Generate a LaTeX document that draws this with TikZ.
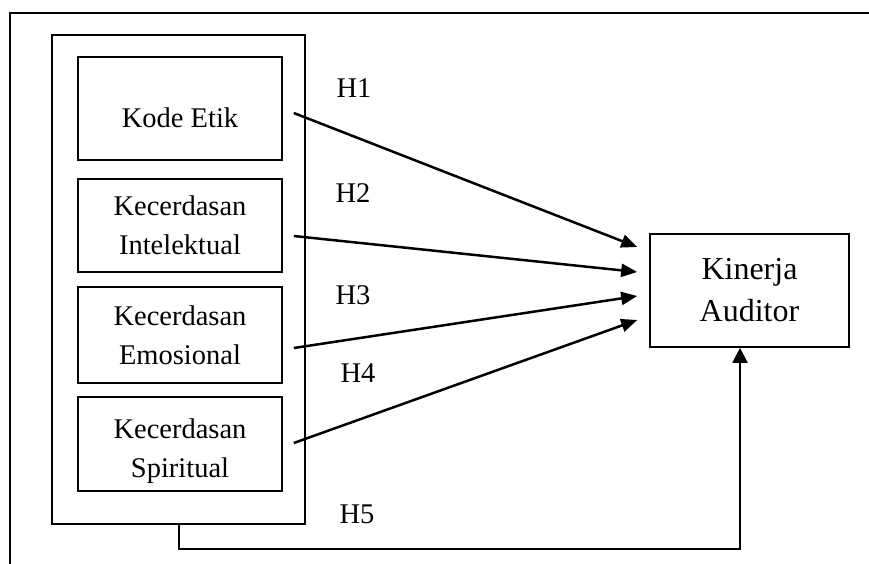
\documentclass[tikz,border=0pt]{standalone}
\usepackage{fontspec}
\setmainfont{Liberation Serif}
\usepackage{tikz}
\usetikzlibrary{positioning}
\usetikzlibrary{arrows.meta}

\begin{document}
\begin{tikzpicture}[x=1pt,y=-1pt,
    varbox/.style={align=center,draw,line width=1.6pt,minimum width=204pt,inner sep=0pt},
    hlabel/.style={inner sep=0pt},
    hyp/.style={-{Triangle[length=16pt,width=13pt]},line width=2.5pt}]
  \useasboundingbox (0,0) rectangle (869,564);
  \fontsize{28.5}{39}\selectfont

  % frame
  \draw[line width=1.6pt] (869,13) -- (10,13) -- (10,564);

  \node at (178.5,279.5) [draw,line width=1.6pt,minimum width=253pt,minimum height=489pt] (group) {};

  \node at (180,108.5) [varbox,minimum height=103pt,text height=38pt] (kode) {Kode Etik};

  \node at (180,225.5) [varbox,minimum height=93pt] (intel) {
    Kecerdasan\\
    Intelektual
  };

  \node at (180,335) [varbox,minimum height=96pt] (emosi) {
    Kecerdasan\\
    Emosional
  };

  \node at (180,444) [varbox,minimum height=94pt,text height=74pt] (spirit) {
    Kecerdasan\\
    Spiritual
  };

  \node at (749.5,290.5) [align=center,draw,line width=1.6pt,minimum width=199pt,minimum height=113pt,inner sep=0pt,font=\fontsize{32}{42}\selectfont] (kinerja) {
    Kinerja\\
    Auditor
  };

  \node at (354,88.5) [hlabel] (h1) {H1};
  \node at (353,193) [hlabel] (h2) {H2};
  \node at (353,295) [hlabel] (h3) {H3};
  \node at (358,373.5) [hlabel] (h4) {H4};
  \node at (357,514) [hlabel] (h5) {H5};

  \draw[hyp] ([xshift=11pt,yshift=-4.5pt]kode.east) -- ([xshift=-12pt,yshift=43.5pt]kinerja.west);
  \draw[hyp] ([xshift=11pt,yshift=-10.5pt]intel.east) -- ([xshift=-12pt,yshift=18.5pt]kinerja.west);
  \draw[hyp] ([xshift=11pt,yshift=-13pt]emosi.east) -- ([xshift=-12pt,yshift=-5.5pt]kinerja.west);
  \draw[hyp] ([xshift=11pt,yshift=1pt]spirit.east) -- ([xshift=-12pt,yshift=-29.5pt]kinerja.west);

  \draw[hyp,line width=2pt,-{Triangle[length=15pt,width=15pt]}] (group.south) -- ++(0,24) -| ([xshift=-9.5pt]kinerja.south);
\end{tikzpicture}
\end{document}
